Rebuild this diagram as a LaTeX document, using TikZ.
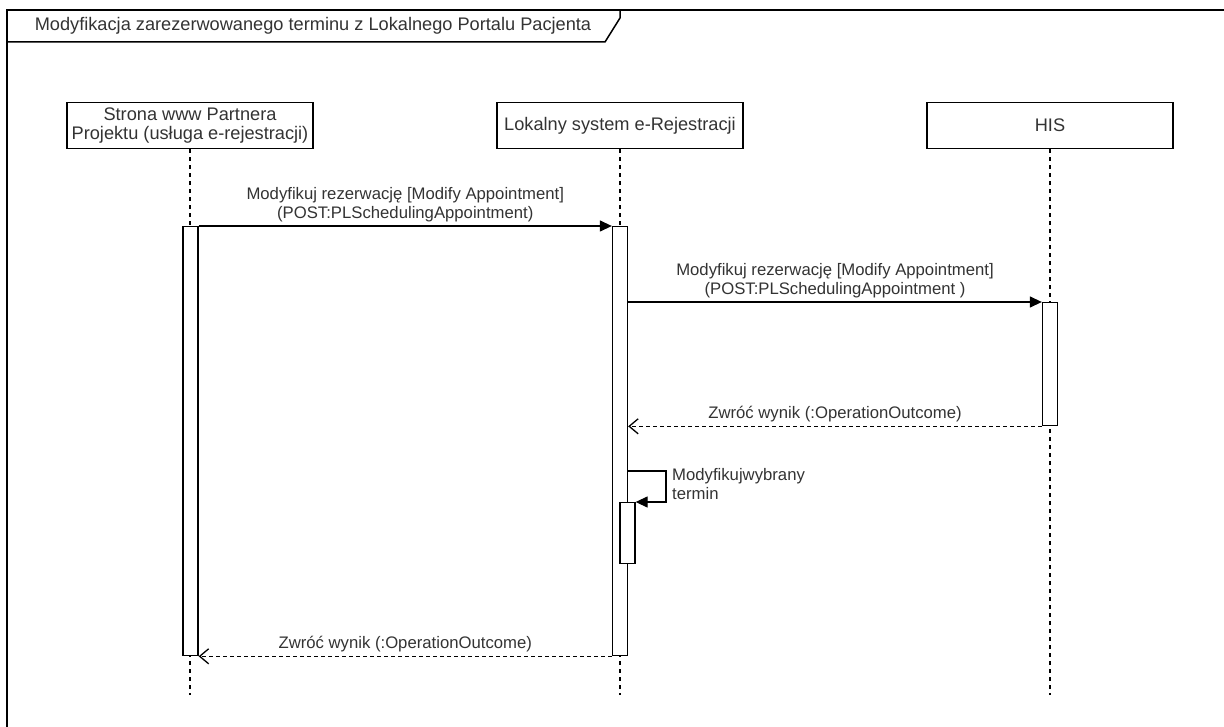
\documentclass[tikz,border=0pt]{standalone}
\usepackage{fontspec}
\setmainfont{Liberation Sans}
\usetikzlibrary{arrows.meta, positioning}

\begin{document}
\begin{tikzpicture}[x=1pt, y=-1pt, font=\fontsize{18.2}{19.5}\selectfont,
  every node/.style={text=black!80},
  actor/.style={draw, line width=1.3pt, minimum width=246pt, minimum height=46pt, align=center, inner sep=0pt},
  actbox/.style={draw, line width=1.3pt, fill=white, minimum width=15pt, inner sep=0pt, anchor=north},
  lbl/.style={font=\fontsize{16.7}{19}\selectfont, inner sep=0pt},
  life/.style={line width=1.3pt, dash pattern=on 4pt off 4pt},
  msg/.style={line width=1.3pt, -{Triangle[length=12pt,width=11pt]}},
  ret/.style={line width=1.3pt, dash pattern=on 4pt off 3pt, -{Straight Barb[length=9pt,width=15pt]}}]
\useasboundingbox (0,0) rectangle (1224,727);

%Frame:
\draw[line width=1.5pt] (1224,10) -- (7,10) -- (7,727);
\draw[line width=1.5pt] (7,42) -- (605,42) -- (620,18) -- (620,10);
\node (title) at (313,26) {Modyfikacja zarezerwowanego terminu z Lokalnego Portalu Pacjenta};

%Participants:
\node (A) [actor] at (190,125.5) {Strona www Partnera\\Projektu (usługa e-rejestracji)};
\node (B) [actor] at (620,125.5) {Lokalny system e-Rejestracji};
\node (C) [actor] at (1050,125.5) {HIS};
\coordinate (endA) at (190,695);
\coordinate (endB) at (620,695);
\coordinate (endC) at (1050,695);

\draw[life] (A) -- (endA);
\draw[life] (B) -- (endB);
\draw[life] (C) -- (endC);

%Activations:
\node (actA) [actbox, minimum height=429pt] at (190.5,226) {};
\node (actB) [actbox, minimum height=429pt] at (620,226) {};
\node (actC) [actbox, minimum height=123pt] at (1050,302) {};
\node (actD) [actbox, minimum height=61pt] at (627.5,502) {};
\coordinate (selfA) at (actB.east |- 0,471);
\coordinate (selfB) at (666,502);

%Messages:
\draw[msg] (actA.north east) -- (actB.north west)
  node[lbl, midway, above=3pt, align=center] {Modyfikuj rezerwację [Modify Appointment]\\(POST:PLSchedulingAppointment)};
\draw[msg] (actB.east |- actC.north west) -- (actC.north west)
  node[lbl, midway, above=3pt, align=center] {Modyfikuj rezerwację [Modify Appointment]\\(POST:PLSchedulingAppointment )};
\draw[ret] (actC.south west) -- (actB.east |- actC.south west)
  node[lbl, midway, above=4pt] {Zwróć wynik (:OperationOutcome)};
\draw[msg] (selfA) -| (selfB) -- (actD.north east);
\node (selfL) [lbl, anchor=west, align=left] at (672,484) {Modyfikujwybrany\\termin};
\draw[ret] (actB.south west) -- (actA.south east)
  node[lbl, midway, above=4pt] {Zwróć wynik (:OperationOutcome)};

\end{tikzpicture}
\end{document}
